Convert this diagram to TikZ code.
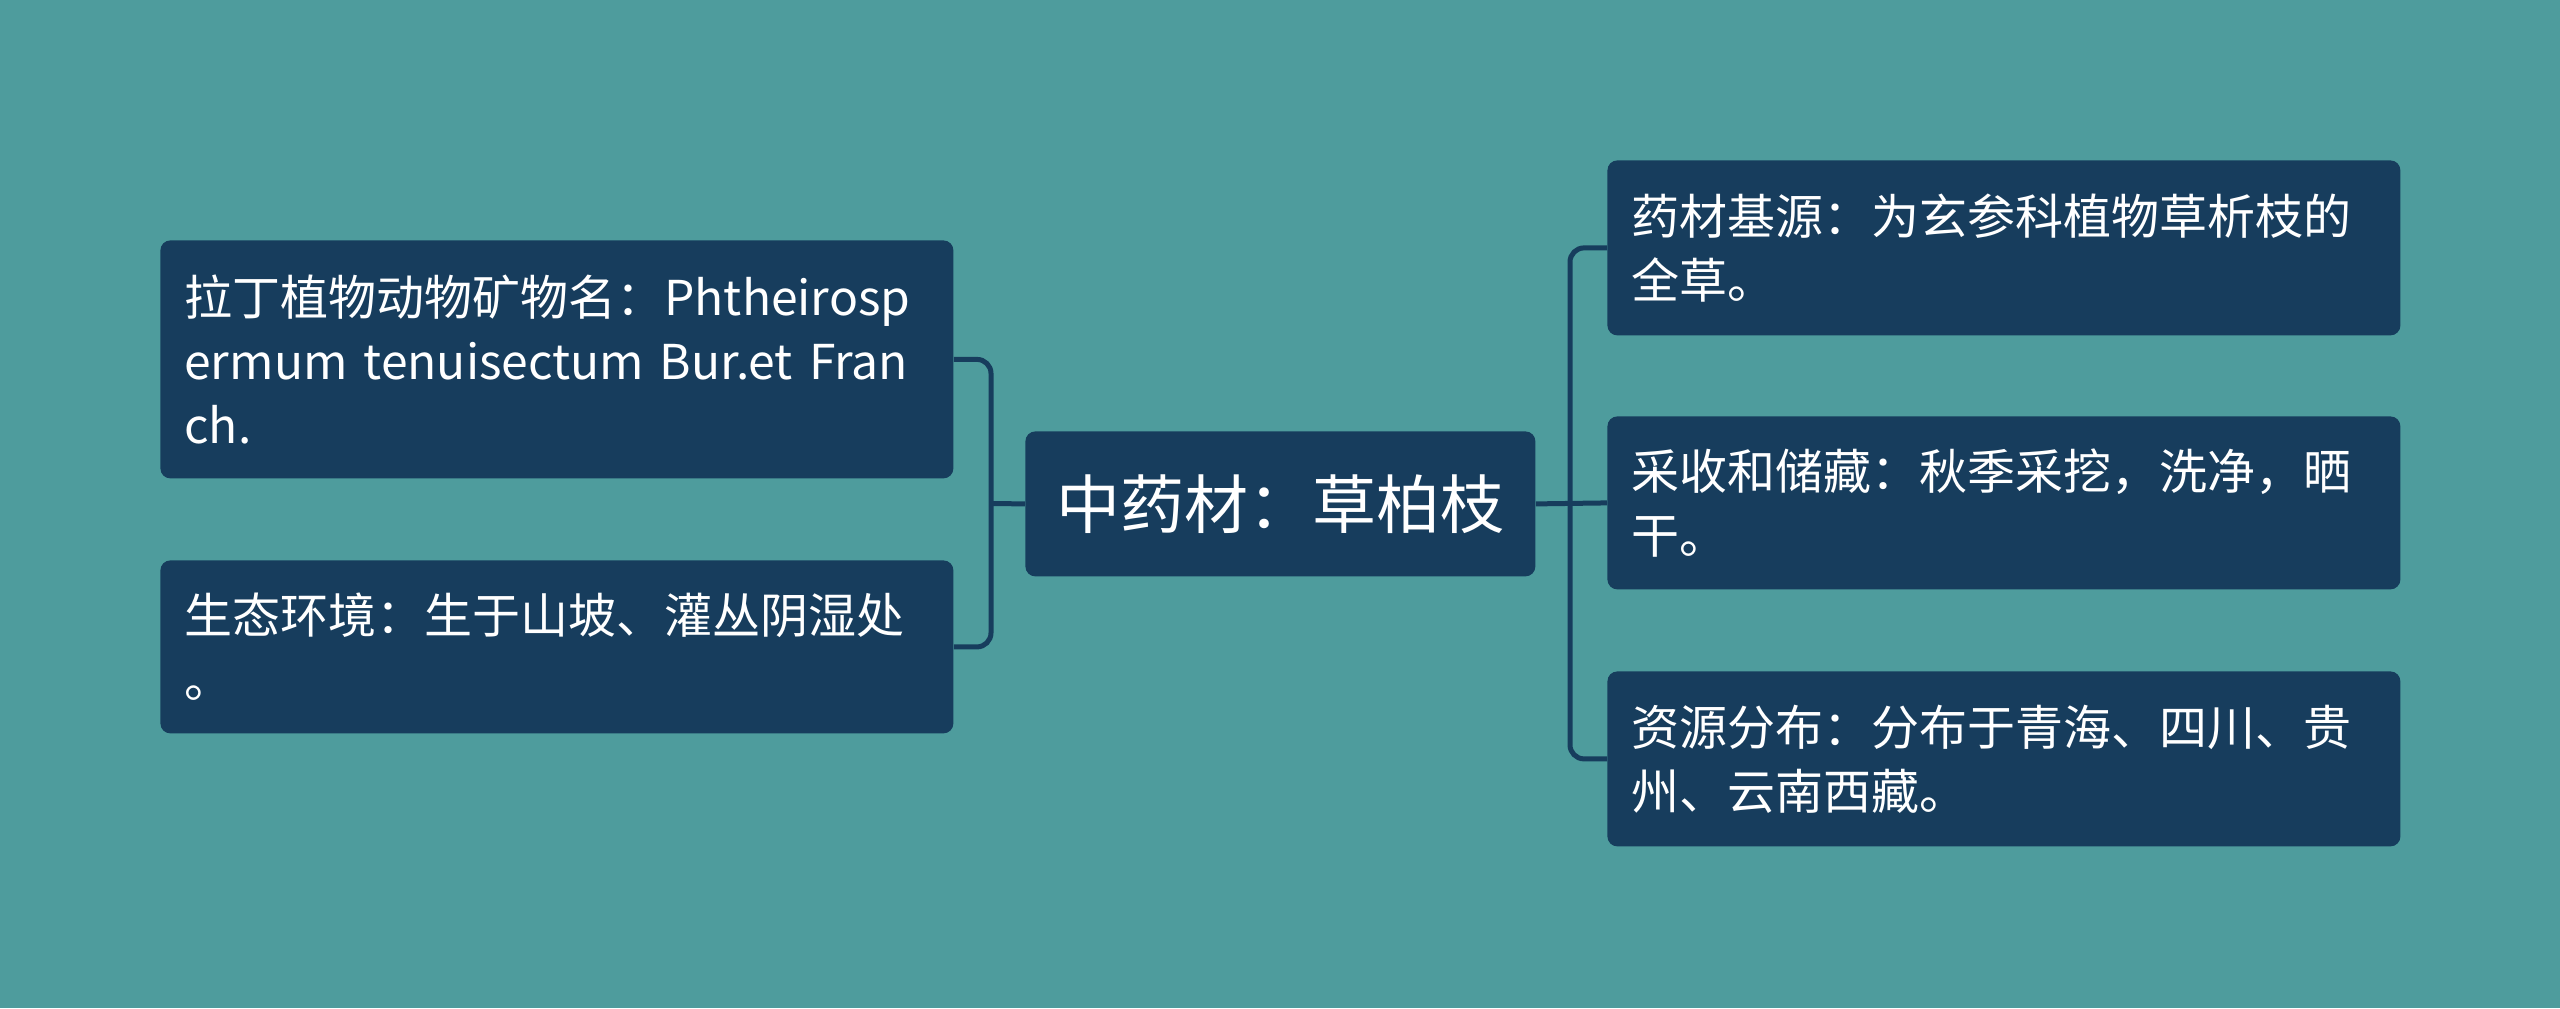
\documentclass[tikz,border=0pt]{standalone}
\usepackage{fontspec}
\setmainfont{Noto Sans CJK SC}
\definecolor{bg}{HTML}{4E9C9D}
\definecolor{nodefill}{HTML}{173D5D}
\begin{document}
\begin{tikzpicture}[x=0.5pt,y=-0.5pt,
  box/.style={fill=nodefill, rounded corners=5pt, text=white, inner xsep=12pt, inner ysep=0pt,
    align=left, anchor=north west, text width=372.5pt, minimum width=396.5pt,
    font=\fontsize{24pt}{32pt}\selectfont},
  centerbox/.style={fill=nodefill, rounded corners=5pt, text=white, inner sep=0pt,
    align=center, anchor=north west, minimum width=255pt, minimum height=72.5pt,
    font=\fontsize{32pt}{40pt}\selectfont},
  link/.style={draw=nodefill, line width=2.5pt, rounded corners=7pt}]
\fill[bg] (0,0) rectangle (2560,1008);
\useasboundingbox (0,0) rectangle (2560,1008);

\node[centerbox] (c) at (1025,431) {中药材：草柏枝};

\node[box, minimum height=119pt] (l1) at (160,240) {拉丁植物动物矿物名：Phtheirosp\\ermum tenuisectum Bur.et Fran\\ch.};
\node[box, minimum height=86.5pt] (l2) at (160,560) {生态环境：生于山坡、灌丛阴湿处\\。};

\node[box, minimum height=87.5pt] (r1) at (1607,160) {药材基源：为玄参科植物草析枝的\\全草。};
\node[box, minimum height=86.5pt] (r2) at (1607,416) {采收和储藏：秋季采挖，洗净，晒\\干。};
\node[box, minimum height=87.5pt] (r3) at (1607,671) {资源分布：分布于青海、四川、贵\\州、云南西藏。};

\coordinate (ls) at (991,503.5);
\coordinate (rs) at (1570,503.5);

\draw[link] (l1.east) -| (ls) |- (l2.east);
\draw[link] (c.west) -- (ls);
\draw[link] (r1.west) -| (rs) |- (r3.west);
\draw[link] (c.east) -- (r2.west);
\end{tikzpicture}
\end{document}
